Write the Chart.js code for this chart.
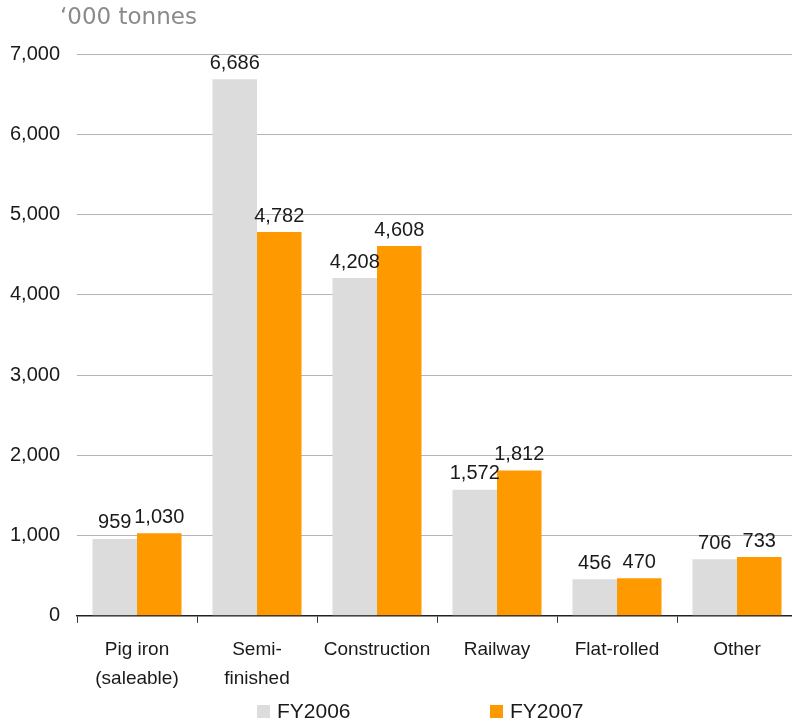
<!DOCTYPE html>
<html>
<head>
<meta charset="utf-8">
<script src="https://cdn.jsdelivr.net/npm/chart.js@4/dist/chart.umd.min.js"></script>
<style>
  html, body { margin: 0; padding: 0; background: #fff; overflow: hidden; }
  #wrap { width: 810px; height: 721px; position: relative; }
</style>
</head>
<body>
<div id="wrap"><canvas id="c" width="810" height="721"></canvas></div>
<script>
const categories = [["Pig iron", "(saleable)"], ["Semi-", "finished"], "Construction", "Railway", "Flat-rolled", "Other"];
const fy2006 = [959, 6686, 4208, 1572, 456, 706];
const fy2007 = [1030, 4782, 4608, 1812, 470, 733];
const seriesNames = ["FY2006", "FY2007"];
const yTicks = [0, 1000, 2000, 3000, 4000, 5000, 6000, 7000];
const unitLabel = "\u2018000 tonnes";

const FONT = "'Liberation Sans', Arial, sans-serif";

const labelPlugin = {
  id: 'valueLabels',
  afterDatasetsDraw(chart) {
    const ctx = chart.ctx;
    ctx.save();
    ctx.font = "20px " + FONT;
    ctx.fillStyle = "#1a1a1a";
    ctx.textAlign = "center";
    ctx.textBaseline = "bottom";
    chart.data.datasets.forEach((ds, di) => {
      const meta = chart.getDatasetMeta(di);
      meta.data.forEach((bar, i) => {
        ctx.fillText(ds.data[i].toLocaleString('en-US'), bar.x, bar.y - 6);
      });
    });
    ctx.restore();
  }
};

const extrasPlugin = {
  id: 'extras',
  afterDraw(chart) {
    const ctx = chart.ctx;
    ctx.save();
    ctx.font = "23px 'DejaVu Sans', sans-serif";
    ctx.fillStyle = "#8a8a8a";
    ctx.textAlign = "left";
    ctx.textBaseline = "middle";
    ctx.fillText(unitLabel, 60, 18);
    const pos = [257, 490];
    ctx.font = "21px " + FONT;
    chart.data.datasets.forEach((ds, di) => {
      const x = pos[di];
      ctx.fillStyle = ds.backgroundColor;
      ctx.fillRect(x, 705, 13, 13);
      ctx.fillStyle = "#1a1a1a";
      ctx.fillText(ds.label, x + 20, 712);
    });
    ctx.restore();
  }
};

new Chart(document.getElementById('c'), {
  type: 'bar',
  data: {
    labels: categories,
    datasets: [
      { label: seriesNames[0], data: fy2006, backgroundColor: '#dcdcdc' },
      { label: seriesNames[1], data: fy2007, backgroundColor: '#ff9900' }
    ]
  },
  options: {
    responsive: false,
    animation: false,
    devicePixelRatio: 1,
    layout: { padding: { left: 0, right: 13, top: 54, bottom: 16 } },
    datasets: { bar: { categoryPercentage: 0.742, barPercentage: 1.0 } },
    plugins: { legend: { display: false }, tooltip: { enabled: false } },
    scales: {
      x: {
        grid: { drawOnChartArea: false, drawTicks: true, tickLength: 7, color: '#333', offset: true },
        border: { display: true, color: '#222', width: 1.5 },
        ticks: { color: '#1a1a1a', font: { family: FONT, size: 19, lineHeight: 1.53 }, padding: 12, maxRotation: 0, autoSkip: false }
      },
      y: {
        min: 0, max: 7000,
        afterFit(scale) { scale.width = 77; },
        afterBuildTicks(scale) { scale.ticks = yTicks.map(v => ({ value: v })); },
        grid: { drawTicks: false, color: '#b4b4b4', lineWidth: 1 },
        border: { display: false },
        ticks: {
          color: '#1a1a1a', font: { family: FONT, size: 20 }, padding: 17,
          callback: v => v.toLocaleString('en-US')
        }
      }
    }
  },
  plugins: [labelPlugin, extrasPlugin]
});
</script>
</body>
</html>
